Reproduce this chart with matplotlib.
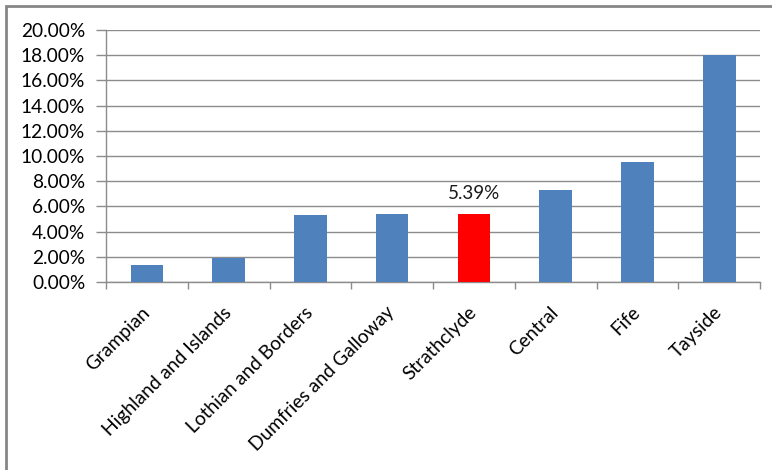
import matplotlib
matplotlib.use("Agg")
import matplotlib.pyplot as plt
from matplotlib.patches import Rectangle
from matplotlib.ticker import FuncFormatter
import numpy as np

regions = ["Grampian", "Highland and Islands", "Lothian and Borders",
           "Dumfries and Galloway", "Strathclyde", "Central", "Fife", "Tayside"]
values = [1.33, 1.91, 5.28, 5.38, 5.39, 7.34, 9.49, 18.0]
highlight = "Strathclyde"
yticks = [0, 2, 4, 6, 8, 10, 12, 14, 16, 18, 20]

plt.rcParams['font.family'] = ['Lato', 'DejaVu Sans']

fig = plt.figure(figsize=(7.72, 4.70), dpi=100)
ax = fig.add_axes([0.1373, 0.40, 0.8472, 0.536])

# outer chart border (runs off the right/bottom of the image)
fig.patches.append(Rectangle((6 / 772, -0.1), 1.2, 1 - 6 / 470 + 0.1,
                             transform=fig.transFigure, fill=False,
                             edgecolor='#868686', linewidth=2))

x = np.arange(len(regions))
colors = ['#FF0000' if r == highlight else '#4F81BD' for r in regions]
ax.bar(x, values, width=0.4, color=colors, zorder=3)

i = regions.index(highlight)
ax.text(x[i], values[i] + 1.0, "%.2f%%" % values[i], ha='center', va='bottom',
        fontsize=13.5, color='#1a1a1a')

ax.set_xlim(-0.5, len(regions) - 0.5)
ax.set_ylim(0, 20)
ax.set_yticks(yticks)
ax.yaxis.set_major_formatter(FuncFormatter(lambda v, p: "%.2f%%" % v))
ax.grid(axis='y', color='#8c8c8c', linewidth=1, zorder=0)

ax.set_xticks(x)
ax.set_xticklabels(regions, rotation=45, ha='right', va='center',
                   rotation_mode='anchor', fontsize=13.8)
ax.set_xticks(np.arange(len(regions) + 1) - 0.5, minor=True)
ax.tick_params(axis='x', which='major', length=0, pad=20)
ax.tick_params(axis='x', which='minor', length=5, width=1, color='#8c8c8c')
ax.tick_params(axis='y', length=7, width=1, color='#8c8c8c', labelsize=13.8, pad=8)

for s in ['top', 'right']:
    ax.spines[s].set_visible(False)
for s in ['left', 'bottom']:
    ax.spines[s].set_color('#8c8c8c')
    ax.spines[s].set_linewidth(1)

fig.savefig("out.png", dpi=100)
